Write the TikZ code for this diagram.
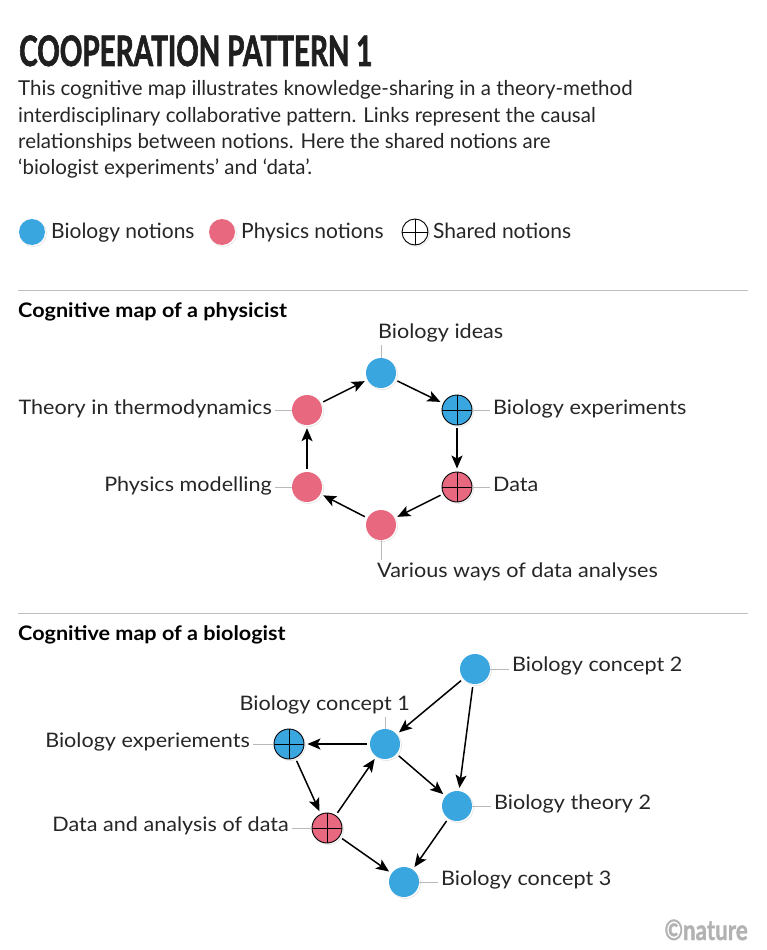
\documentclass[tikz,border=0pt]{standalone}
\usepackage{fontspec}
\setmainfont{Lato}
\newfontfamily\bodyfont{Lato}
\newfontfamily\widefont[FakeStretch=1.08]{Lato}
\newfontfamily\titlefont[FakeStretch=0.665, FakeBold=1.5]{Lato}
\newfontfamily\logofont[FakeStretch=0.8, FakeBold=1.2]{Lato}
\usetikzlibrary{arrows.meta, shadows}

\definecolor{bioblue}{RGB}{58,166,224}
\definecolor{phypink}{RGB}{232,104,128}

\tikzstyle{notion} = [circle, inner sep = 0pt, minimum size = 30pt,
  drop shadow = {shadow xshift = 1.5pt, shadow yshift = -1.5pt, fill = white, draw = gray!45, line width = 0.6pt}]
\tikzstyle{bionode} = [notion, fill = bioblue]
\tikzstyle{phynode} = [notion, fill = phypink]
\tikzstyle{shared} = [draw = black, line width = 0.9pt,
  path picture = {\draw[black, line width = 0.9pt]
    (path picture bounding box.north) -- (path picture bounding box.south)
    (path picture bounding box.west) -- (path picture bounding box.east);}]
\tikzstyle{link} = [-{Stealth[length = 13pt, width = 11pt, inset = 3pt]}, line width = 1.5pt,
  shorten <= 3pt, shorten >= 3pt]
\tikzstyle{tick} = [gray!55, line width = 0.8pt, shorten >= 3pt]
\tikzstyle{maplabel} = [inner sep = 0pt, font = \widefont\fontsize{20}{23}\selectfont, text = black!85]
\tikzstyle{bodyline} = [anchor = base west, inner sep = 0pt, font = \bodyfont\fontsize{20.5}{24}\selectfont, text = black!85]
\tikzstyle{keytext} = [anchor = mid west, inner sep = 0pt, font = \bodyfont\fontsize{21}{24}\selectfont, text = black!85]
\tikzstyle{maphead} = [anchor = base west, inner sep = 0pt, font = \widefont\bfseries\fontsize{20}{23}\selectfont]

\begin{document}
\begin{tikzpicture}[x = 1pt, y = -1pt]
  \useasboundingbox[fill = white] (0, 0) rectangle (767, 950);

  % Heading and text
  \node[anchor = base west, inner sep = 0pt, font = \titlefont\bfseries\fontsize{42}{46}\selectfont, text = black!88]
    (title) at (19, 66) {COOPERATION PATTERN 1};
  \node[bodyline] (line1) at (18, 95) {This cognitive map illustrates knowledge-sharing in a theory-method};
  \node[bodyline] (line2) at (18, 122) {interdisciplinary collaborative pattern. Links represent the causal};
  \node[bodyline] (line3) at (18, 148) {relationships between notions. Here the shared notions are};
  \node[bodyline] (line4) at (18, 174) {‘biologist experiments’ and ‘data’.};

  % Legend
  \node[bionode, minimum size = 26pt] (keybio) at (32, 232) {};
  \node[phynode, minimum size = 26pt] (keyphy) at (222, 232) {};
  \node[notion, shared, fill = white, minimum size = 26pt] (keyshared) at (415, 232) {};
  \node[keytext] (lkeybio) at (51, 236) {Biology notions};
  \node[keytext] (lkeyphy) at (241, 236) {Physics notions};
  \node[keytext] (lkeyshared) at (433, 236) {Shared notions};

  % Cognitive map of a physicist
  \draw[gray!50, line width = 1pt] (18, 290) -- (748, 290);
  \node[maphead] (physhead) at (18, 317) {Cognitive map of a physicist};

  \node[bionode] (bideas) at (381, 373) {};
  \node[bionode, shared] (bexp) at (457, 410) {};
  \node[phynode, shared] (data) at (457, 487) {};
  \node[phynode] (vways) at (381, 525) {};
  \node[phynode] (pmod) at (307, 487) {};
  \node[phynode] (theory) at (307, 410) {};

  \node[maplabel, anchor = base west] (lbideas) at (378, 338) {Biology ideas};
  \node[maplabel, anchor = mid west] (lbexp) at (493, 412) {Biology experiments};
  \node[maplabel, anchor = mid west] (ldata) at (493, 489) {Data};
  \node[maplabel, anchor = north west] (lvways) at (377, 563) {Various ways of data analyses};
  \node[maplabel, anchor = mid east] (lpmod) at (272, 489) {Physics modelling};
  \node[maplabel, anchor = mid east] (ltheory) at (272, 412) {Theory in thermodynamics};

  \draw[tick] (bideas.north) -- (bideas.north |- lbideas.south);
  \draw[tick] (vways.south) -- (vways.south |- lvways.north);
  \foreach \n/\l in {bexp/lbexp, data/ldata}
    \draw[tick] (\n.east) -- (\n.east -| \l.west);
  \foreach \n/\l in {pmod/lpmod, theory/ltheory}
    \draw[tick] (\n.west) -- (\n.west -| \l.east);

  \foreach \a/\b in {bideas/bexp, bexp/data, data/vways, vways/pmod, pmod/theory, theory/bideas}
    \draw[link] (\a) -- (\b);

  % Cognitive map of a biologist
  \draw[gray!50, line width = 1pt] (18, 613) -- (748, 613);
  \node[maphead] (biohead) at (18, 640) {Cognitive map of a biologist};

  \node[bionode] (bconcept2) at (475, 669) {};
  \node[bionode] (bconcept1) at (385, 744) {};
  \node[bionode, shared] (bexper) at (289, 744) {};
  \node[phynode, shared] (danalysis) at (327, 828) {};
  \node[bionode] (btheory2) at (457, 806) {};
  \node[bionode] (bconcept3) at (404, 882) {};

  \node[maplabel, anchor = mid west] (lbconcept2) at (512, 669) {Biology concept 2};
  \node[maplabel, anchor = base east] (lbconcept1) at (410, 710) {Biology concept 1};
  \node[maplabel, anchor = mid east] (lbexper) at (250, 745) {Biology experiements};
  \node[maplabel, anchor = mid east] (ldanalysis) at (289, 829) {Data and analysis of data};
  \node[maplabel, anchor = mid west] (lbtheory2) at (494, 807) {Biology theory 2};
  \node[maplabel, anchor = mid west] (lbconcept3) at (441, 883) {Biology concept 3};

  \draw[tick] (bconcept1.north) -- (bconcept1.north |- lbconcept1.south);
  \foreach \n/\l in {bconcept2/lbconcept2, btheory2/lbtheory2, bconcept3/lbconcept3}
    \draw[tick] (\n.east) -- (\n.east -| \l.west);
  \foreach \n/\l in {bexper/lbexper, danalysis/ldanalysis}
    \draw[tick] (\n.west) -- (\n.west -| \l.east);

  \foreach \a/\b in {bconcept2/bconcept1, bconcept2/btheory2, bconcept1/bexper, bconcept1/btheory2,
                     bexper/danalysis, danalysis/bconcept1, danalysis/bconcept3, btheory2/bconcept3}
    \draw[link] (\a) -- (\b);

  % Credit
  \node[anchor = base east, inner sep = 0pt, font = \logofont\bfseries\fontsize{28}{30}\selectfont, text = gray!60]
    (credit) at (748, 940) {©nature};
\end{tikzpicture}
\end{document}
